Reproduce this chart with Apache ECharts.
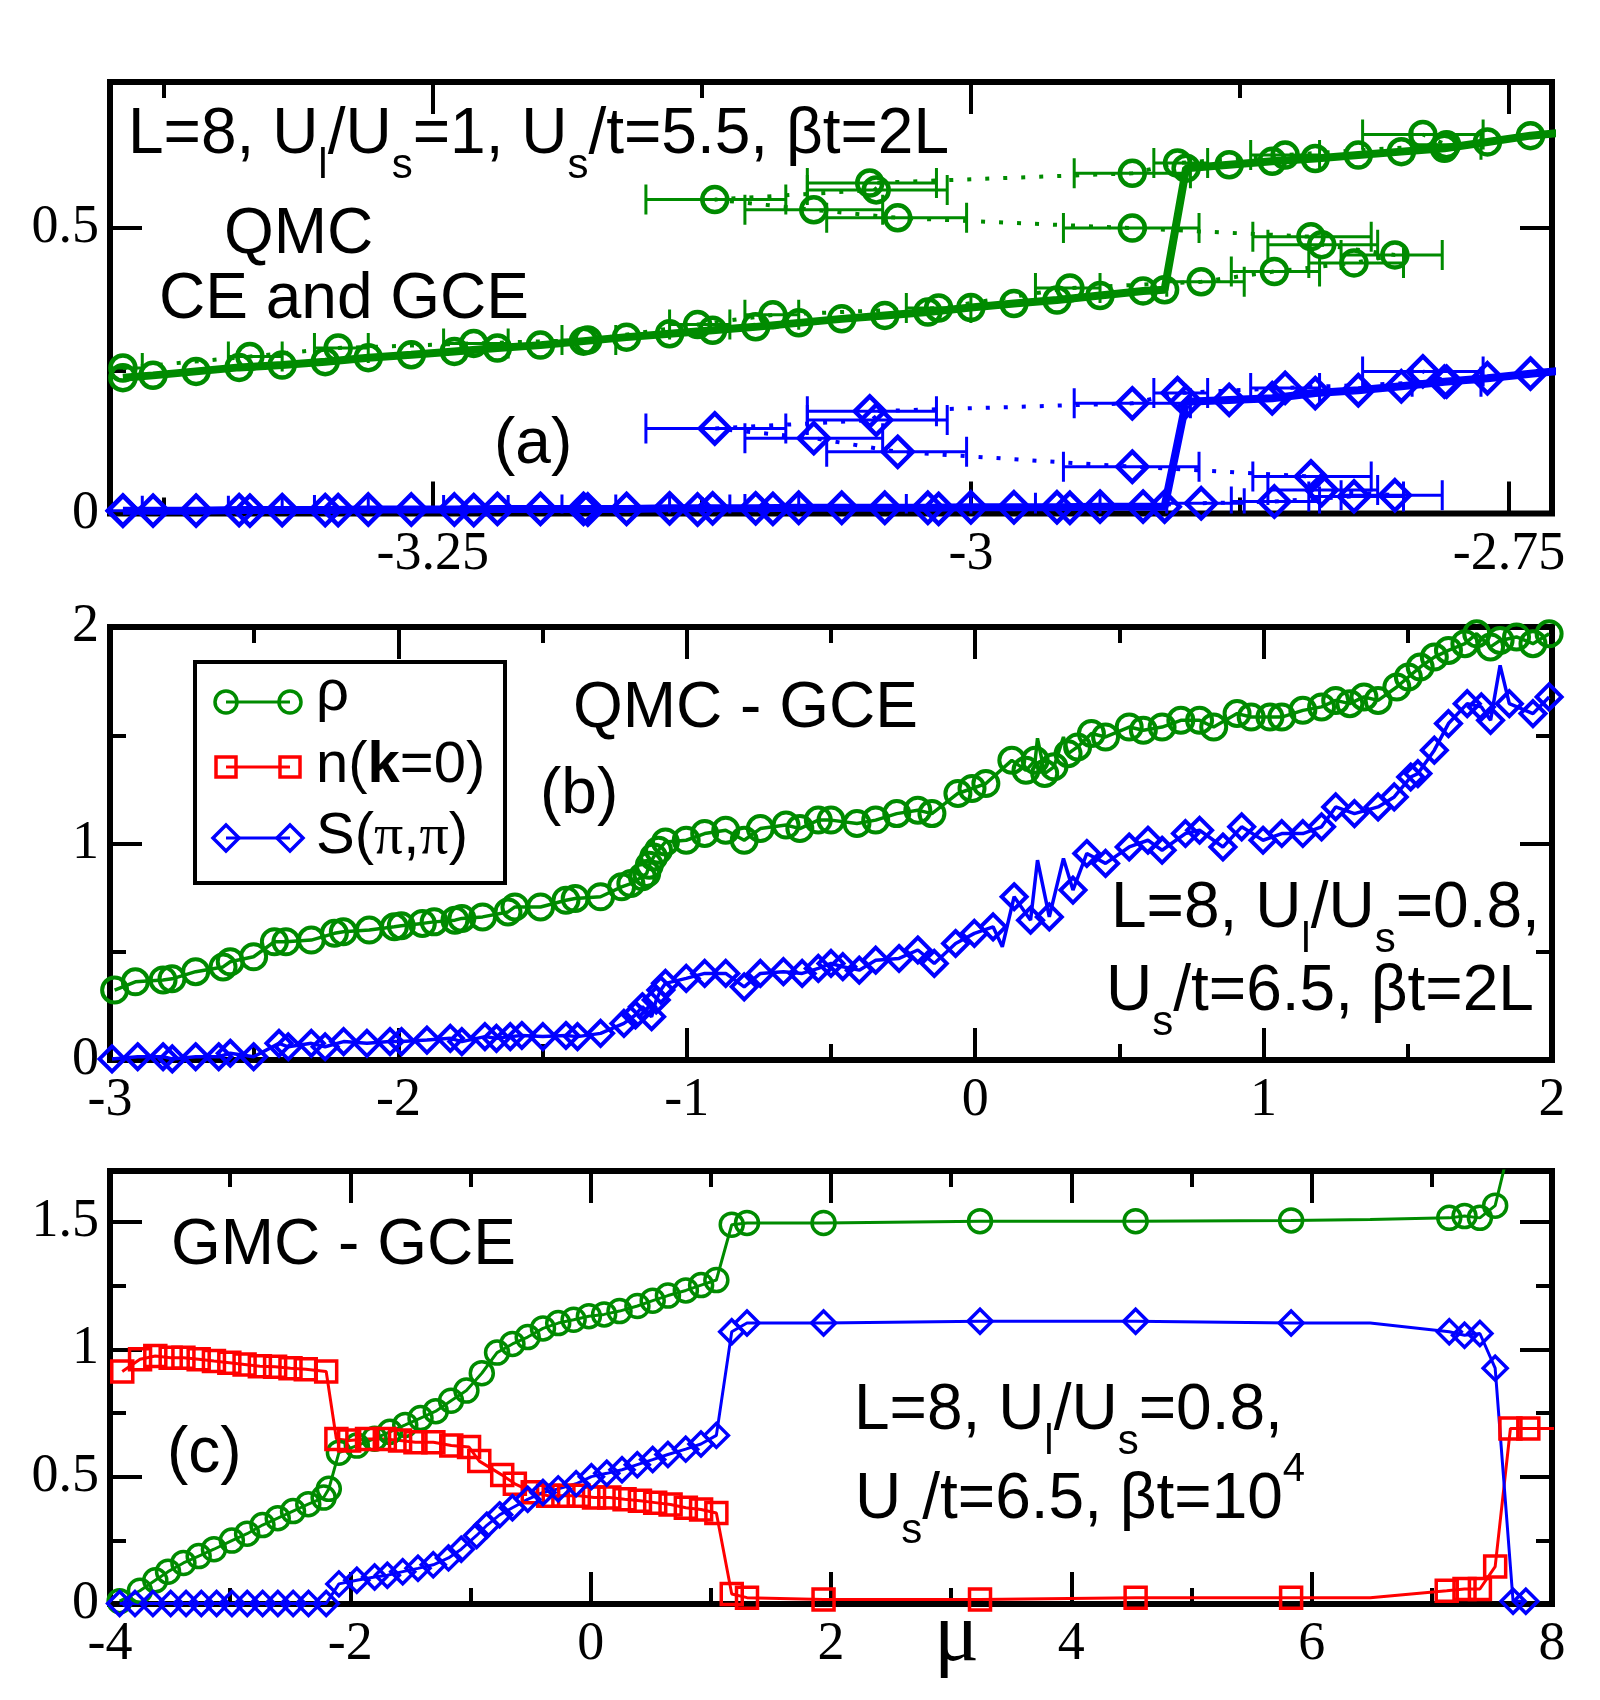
<!DOCTYPE html>
<html>
<head>
<meta charset="utf-8">
<title>QMC / GMC: rho, n(k=0), S(pi,pi) vs mu</title>
<script src="https://cdn.jsdelivr.net/npm/echarts@6.0.0/dist/echarts.min.js"></script>
<style>
  html, body { margin: 0; padding: 0; background: #fff; }
  #chart { width: 1600px; height: 1700px; }
</style>
</head>
<body>
<div id="chart"></div>
<script>
// ---------- data ----------

// panel (a): QMC, CE and GCE, L=8, Ul/Us=1
const aGceMu  = [-3.394,-3.38,-3.36,-3.34,-3.32,-3.30,-3.28,-3.26,-3.24,-3.22,-3.20,-3.18,-3.16,-3.14,-3.12,-3.10,-3.08,-3.06,-3.04,-3.02,-3.00,-2.98,-2.96,-2.94,-2.92,-2.91,-2.90,-2.88,-2.86,-2.84,-2.82,-2.80,-2.78,-2.76,-2.74,-2.72];
const aGceRho = [0.238,0.242,0.249,0.256,0.260,0.266,0.273,0.278,0.284,0.290,0.295,0.302,0.309,0.315,0.321,0.327,0.334,0.341,0.347,0.353,0.361,0.368,0.374,0.382,0.390,0.392,0.605,0.611,0.617,0.622,0.628,0.634,0.640,0.651,0.662,0.669];
const aGceS   = [0.005,0.005,0.005,0.006,0.006,0.006,0.007,0.007,0.007,0.008,0.008,0.008,0.008,0.009,0.009,0.009,0.010,0.010,0.010,0.010,0.011,0.011,0.011,0.012,0.012,0.012,0.196,0.199,0.202,0.211,0.216,0.223,0.231,0.237,0.245,0.252];

// canonical ensemble points, in order of particle number, with x error bars
const aCeMu  = [-3.394,-3.335,-3.294,-3.231,-3.178,-3.127,-3.092,-3.015,-2.954,-2.893,-2.859,-2.822,-2.803,-2.837,-2.842,-2.925,-3.034,-3.073,-3.119,-3.044,-3.047,-2.925,-2.904,-2.854,-2.779,-2.790];
const aCeLo  = [-3.405,-3.345,-3.305,-3.245,-3.190,-3.140,-3.105,-3.030,-2.970,-2.909,-2.879,-2.843,-2.828,-2.862,-2.869,-2.957,-3.067,-3.105,-3.151,-3.076,-3.076,-2.952,-2.915,-2.870,-2.795,-2.818];
const aCeHi  = [-3.385,-3.320,-3.280,-3.215,-3.165,-3.112,-3.080,-3.000,-2.940,-2.873,-2.838,-2.799,-2.781,-2.811,-2.814,-2.894,-3.002,-3.041,-3.086,-3.011,-3.016,-2.898,-2.890,-2.838,-2.763,-2.762];
const aCeRho = [0.255,0.275,0.290,0.298,0.304,0.331,0.348,0.360,0.395,0.406,0.424,0.439,0.453,0.471,0.485,0.500,0.518,0.532,0.550,0.567,0.579,0.596,0.614,0.628,0.646,0.664];
const aCeS   = [0.005,0.005,0.006,0.006,0.007,0.007,0.008,0.008,0.010,0.018,0.021,0.030,0.032,0.041,0.065,0.082,0.108,0.132,0.149,0.164,0.179,0.193,0.211,0.220,0.231,0.249];

// panel (b): QMC - GCE, L=8, Ul/Us=0.8, beta t = 2L   [mu, value]
const bRho = [[-2.984,0.323],[-2.912,0.361],[-2.816,0.370],[-2.785,0.375],[-2.703,0.408],[-2.608,0.430],[-2.583,0.454],[-2.502,0.477],[-2.430,0.546],[-2.390,0.546],
  [-2.302,0.554],[-2.222,0.585],[-2.191,0.592],[-2.101,0.600],[-2.014,0.615],[-1.990,0.620],[-1.917,0.631],[-1.876,0.638],[-1.804,0.646],[-1.780,0.654],
  [-1.708,0.661],[-1.620,0.684],[-1.596,0.707],[-1.507,0.707],[-1.419,0.738],[-1.387,0.746],[-1.299,0.754],[-1.226,0.800],[-1.194,0.815],[-1.154,0.846],
  [-1.139,0.862],[-1.130,0.900],[-1.115,0.938],[-1.098,0.969],[-1.074,1.007],[-1.002,1.015],[-0.938,1.046],[-0.865,1.061],[-0.801,1.015],[-0.745,1.069],
  [-0.656,1.085],[-0.608,1.069],[-0.544,1.108],[-0.500,1.108],[-0.410,1.092],[-0.345,1.108],[-0.272,1.138],[-0.199,1.154],[-0.150,1.138],[-0.060,1.231],
  [-0.011,1.254],[0.037,1.277],[0.127,1.384],[0.176,1.338],[0.208,1.384],[0.216,1.486],[0.241,1.323],[0.273,1.354],[0.306,1.492],[0.322,1.415],
  [0.355,1.446],[0.403,1.508],[0.452,1.492],[0.534,1.538],[0.583,1.523],[0.648,1.538],[0.713,1.569],[0.778,1.569],[0.827,1.538],[0.908,1.600],
  [0.957,1.584],[1.022,1.584],[1.063,1.584],[1.136,1.615],[1.201,1.631],[1.250,1.661],[1.299,1.646],[1.348,1.677],[1.397,1.661],[1.462,1.723],
  [1.502,1.769],[1.543,1.815],[1.592,1.861],[1.641,1.892],[1.698,1.923],[1.739,1.969],[1.787,1.908],[1.820,1.938],[1.877,1.954],[1.934,1.923],[1.990,1.969]];
const bS = [[-2.993,0.005],[-2.904,0.015],[-2.816,0.015],[-2.784,0.005],[-2.703,0.015],[-2.623,0.015],[-2.583,0.031],[-2.502,0.015],[-2.414,0.077],[-2.382,0.061],
  [-2.302,0.077],[-2.254,0.061],[-2.190,0.085],[-2.109,0.077],[-2.029,0.085],[-1.989,0.085],[-1.901,0.092],[-1.820,0.100],[-1.780,0.085],[-1.700,0.108],
  [-1.660,0.100],[-1.612,0.108],[-1.572,0.113],[-1.499,0.108],[-1.419,0.113],[-1.379,0.108],[-1.299,0.123],[-1.218,0.169],[-1.178,0.208],[-1.154,0.246],
  [-1.122,0.200],[-1.106,0.277],[-1.090,0.323],[-1.074,0.354],[-1.002,0.377],[-0.938,0.400],[-0.865,0.400],[-0.801,0.338],[-0.745,0.400],[-0.665,0.408],
  [-0.600,0.400],[-0.544,0.423],[-0.500,0.446],[-0.459,0.431],[-0.402,0.415],[-0.345,0.461],[-0.264,0.469],[-0.199,0.508],[-0.142,0.446],[-0.068,0.538],
  [-0.003,0.585],[0.062,0.615],[0.094,0.523],[0.135,0.754],[0.192,0.646],[0.216,0.923],[0.257,0.661],[0.306,0.931],[0.339,0.785],[0.387,0.954],
  [0.452,0.908],[0.534,0.984],[0.599,1.015],[0.648,0.969],[0.729,1.046],[0.778,1.061],[0.859,0.984],[0.924,1.077],[0.998,1.015],[1.063,1.046],
  [1.136,1.046],[1.201,1.077],[1.250,1.169],[1.315,1.138],[1.397,1.169],[1.453,1.215],[1.510,1.307],[1.535,1.323],[1.592,1.431],[1.641,1.554],
  [1.706,1.646],[1.755,1.631],[1.787,1.569],[1.820,1.823],[1.852,1.646],[1.934,1.600],[1.990,1.677]];
// vertices drawn without a marker (spikes in the connecting line)
const bRhoNoMark = [0.216, 0.306];
const bSNoMark = [0.094, 0.216, 0.306, 1.820];

// panel (c): GMC - GCE, beta t = 10^4   [mu, value]
const cRho = [[-3.920,0.011],[-3.751,0.052],[-3.623,0.093],[-3.517,0.127],[-3.389,0.161],[-3.262,0.188],[-3.135,0.215],[-2.986,0.249],[-2.859,0.276],[-2.731,0.310],
  [-2.604,0.337],[-2.477,0.365],[-2.350,0.392],[-2.222,0.418],[-2.179,0.452],[-2.095,0.594],[-1.946,0.622],[-1.798,0.649],[-1.671,0.676],[-1.543,0.703],
  [-1.416,0.730],[-1.289,0.757],[-1.162,0.798],[-1.034,0.838],[-0.906,0.906],[-0.779,0.987],[-0.651,1.021],[-0.524,1.048],[-0.397,1.082],[-0.270,1.103],
  [-0.142,1.116],[-0.015,1.130],[0.112,1.137],[0.240,1.150],[0.389,1.170],[0.516,1.191],[0.643,1.211],[0.792,1.231],[0.919,1.252],[1.046,1.272],
  [1.174,1.489],[1.301,1.496],[1.938,1.496],[3.240,1.503],[4.535,1.503],[5.829,1.506],[6.487,1.510],[7.145,1.516],[7.272,1.523],[7.400,1.516],
  [7.527,1.564],[7.750,2.000]];
const cN = [[-3.898,0.913],[-3.750,0.961],[-3.623,0.974],[-3.495,0.967],[-3.389,0.967],[-3.262,0.961],[-3.135,0.954],[-3.007,0.947],[-2.880,0.940],[-2.753,0.933],
  [-2.626,0.931],[-2.498,0.926],[-2.371,0.922],[-2.201,0.913],[-2.116,0.648],[-2.010,0.642],[-1.861,0.648],[-1.713,0.648],[-1.586,0.642],[-1.458,0.635],
  [-1.309,0.635],[-1.160,0.622],[-1.012,0.616],[-0.927,0.561],[-0.736,0.506],[-0.631,0.472],[-0.482,0.439],[-0.354,0.425],[-0.227,0.425],[-0.099,0.425],
  [0.028,0.418],[0.155,0.418],[0.282,0.411],[0.410,0.405],[0.537,0.398],[0.665,0.391],[0.792,0.378],[0.919,0.371],[1.046,0.357],[1.174,0.039],
  [1.301,0.025],[1.938,0.018],[3.240,0.018],[4.535,0.025],[5.829,0.025],[6.487,0.025],[7.124,0.052],[7.272,0.059],[7.400,0.059],[7.527,0.147],
  [7.654,0.689],[7.803,0.689],[8.050,0.689]];
const cS = [[-3.920,0.002],[-3.792,0.002],[-3.643,0.002],[-3.495,0.002],[-3.367,0.002],[-3.240,0.002],[-3.113,0.002],[-2.985,0.002],[-2.858,0.002],[-2.730,0.002],
  [-2.603,0.002],[-2.476,0.002],[-2.348,0.002],[-2.201,0.002],[-2.095,0.079],[-1.946,0.093],[-1.798,0.106],[-1.692,0.113],[-1.564,0.127],[-1.437,0.140],
  [-1.310,0.154],[-1.183,0.181],[-1.077,0.215],[-0.949,0.269],[-0.864,0.309],[-0.758,0.350],[-0.651,0.378],[-0.524,0.411],[-0.397,0.438],[-0.270,0.452],
  [-0.121,0.472],[0.006,0.500],[0.134,0.513],[0.261,0.527],[0.388,0.547],[0.516,0.567],[0.643,0.587],[0.791,0.608],[0.918,0.628],[1.046,0.662],
  [1.174,1.069],[1.301,1.103],[1.938,1.103],[3.240,1.110],[4.535,1.110],[5.829,1.103],[6.487,1.103],[7.145,1.069],[7.272,1.055],[7.400,1.062],
  [7.527,0.926],[7.676,0.011],[7.782,0.011]];
const cNoMark = [6.487];

// axis ranges and ticks
const aXRange = [-3.40, -2.73], aYRange = [0, 0.756];
const bXRange = [-3, 2],        bYRange = [0, 2];
const cXRange = [-4, 8],        cYRange = [0, 1.7];
const aXMajor = [-3.25, -3, -2.75], aXMinor = [-3.375, -3.125, -2.875];
const aYMajor = [0, 0.5],           aYMinor = [0.25];
const bXMajor = [-3, -2, -1, 0, 1, 2], bXMinor = [-2.5, -1.5, -0.5, 0.5, 1.5];
const bYMajor = [0, 1, 2],             bYMinor = [0.5, 1.5];
const cXMajor = [-4, -2, 0, 2, 4, 6, 8], cXMinor = [-3, -1, 1, 3, 5, 7];
const cYMajor = [0, 0.5, 1, 1.5],        cYMinor = [0.25, 0.75, 1.25];

// ---------- styling ----------
const GREEN = '#008b00', BLUE = '#0000ff', RED = '#ff0000';
const SANS = '"Liberation Sans", Arial, sans-serif';
const SERIF = '"Liberation Serif", "Times New Roman", serif';
const NONE = 'rgba(0,0,0,0)';

const chart = echarts.init(document.getElementById('chart'), null, { renderer: 'canvas' });

const grids = [
  { left: 110, top: 82,   width: 1442, height: 431.5 },
  { left: 110, top: 627,  width: 1442, height: 433 },
  { left: 110, top: 1171, width: 1442, height: 433 }
].map(g => Object.assign(g, {
  show: true, borderColor: '#000', borderWidth: 6, backgroundColor: NONE,
  containLabel: false, outerBoundsMode: 'none'
}));

// four axes per side pair: labelled major, minor, mirrored major, mirrored minor
function axes(gridIndex, range, major, minor, sides) {
  const one = (pos, ticks, len, labelled) => ({
    type: 'value', gridIndex, position: pos, min: range[0], max: range[1],
    axisLine: { show: false, onZero: false },
    splitLine: { show: false },
    minorTick: { show: false },
    axisPointer: { show: false },
    axisTick: { show: true, inside: true, length: len, customValues: ticks,
      lineStyle: { color: '#000', width: 4 } },
    axisLabel: labelled ? {
      show: true, customValues: ticks, color: '#000',
      fontFamily: SERIF, fontSize: 54,
      margin: (pos === 'bottom') ? 14 : 11
    } : { show: false }
  });
  return [one(sides[0], major, 32, true), one(sides[0], minor, 16, false),
          one(sides[1], major, 32, false), one(sides[1], minor, 16, false)];
}

const xAxis = [].concat(
  axes(0, aXRange, aXMajor, aXMinor, ['bottom', 'top']),
  axes(1, bXRange, bXMajor, bXMinor, ['bottom', 'top']),
  axes(2, cXRange, cXMajor, cXMinor, ['bottom', 'top']));
const yAxis = [].concat(
  axes(0, aYRange, aYMajor, aYMinor, ['left', 'right']),
  axes(1, bYRange, bYMajor, bYMinor, ['left', 'right']),
  axes(2, cYRange, cYMajor, cYMinor, ['left', 'right']));

function line(panel, data, color, symbol, size, o) {
  o = o || {};
  const skip = o.skip || [];
  return {
    type: 'line', xAxisIndex: panel * 4, yAxisIndex: panel * 4, data,
    symbol: v => skip.includes(v[0]) ? 'none' : symbol,
    symbolSize: size, showSymbol: true, showAllSymbol: true,
    itemStyle: { color: NONE, borderColor: color, borderWidth: o.bw || 3 },
    lineStyle: { color, width: o.lw || 3, type: o.dash || 'solid', cap: 'butt' },
    clip: true, silent: true, animation: false, z: o.z || 3,
    emphasis: { disabled: true }
  };
}

function errorBars(mu, val, lo, hi, color) {
  return {
    type: 'custom', xAxisIndex: 0, yAxisIndex: 0, clip: true, silent: true, z: 2,
    itemStyle: { color },
    encode: { x: [0, 2, 3], y: 1 },
    data: mu.map((m, i) => [m, val[i], lo[i], hi[i]]),
    renderItem: (params, api) => {
      const y = api.value(1);
      const p0 = api.coord([api.value(2), y]);
      const p1 = api.coord([api.value(3), y]);
      const cap = 15;
      const st = { stroke: color, lineWidth: 3 };
      return { type: 'group', children: [
        { type: 'line', shape: { x1: p0[0], y1: p0[1], x2: p1[0], y2: p1[1] }, style: st },
        { type: 'line', shape: { x1: p0[0], y1: p0[1] - cap, x2: p0[0], y2: p0[1] + cap }, style: st },
        { type: 'line', shape: { x1: p1[0], y1: p1[1] - cap, x2: p1[0], y2: p1[1] + cap }, style: st }
      ] };
    }
  };
}

const zip = (xs, ys) => xs.map((x, i) => [x, ys[i]]);

const series = [
  // (a)
  errorBars(aCeMu, aCeRho, aCeLo, aCeHi, GREEN),
  errorBars(aCeMu, aCeS, aCeLo, aCeHi, BLUE),
  line(0, zip(aCeMu, aCeRho), GREEN, 'circle', 25, { bw: 4.5, lw: 4, dash: [4, 14] }),
  line(0, zip(aCeMu, aCeS), BLUE, 'diamond', 30, { bw: 4.5, lw: 4, dash: [4, 14] }),
  line(0, zip(aGceMu, aGceRho), GREEN, 'circle', 25, { bw: 4.5, lw: 8, z: 4 }),
  line(0, zip(aGceMu, aGceS), BLUE, 'diamond', 30, { bw: 4.5, lw: 8, z: 4 }),
  // (b)
  line(1, bRho, GREEN, 'circle', 25, { bw: 4, lw: 3.5, skip: bRhoNoMark }),
  line(1, bS, BLUE, 'diamond', 25, { bw: 4, lw: 3.5, skip: bSNoMark }),
  // (c)
  line(2, cRho, GREEN, 'circle', 23, { bw: 3.5, skip: cNoMark }),
  line(2, cN, RED, 'rect', 21, { bw: 3.5, skip: cNoMark }),
  line(2, cS, BLUE, 'diamond', 24, { bw: 3.5, skip: cNoMark })
];

// ---------- text annotations (laid out with canvas metrics) ----------
const mctx = document.createElement('canvas').getContext('2d');
function midToBase(font) {
  mctx.font = font;
  mctx.textBaseline = 'middle';
  return mctx.measureText('H').actualBoundingBoxDescent;
}
// parts: [text, kind] with kind '', 'sub', 'sup', 'b' (bold) or 'serif'
function textRun(x, base, parts, size) {
  const out = [];
  let cx = x;
  parts.forEach(([t, kind]) => {
    let fs = size, dy = 0, weight = 'normal', fam = SANS;
    if (kind === 'sub') { fs = Math.round(size * 0.66); dy = size * 0.39; }
    if (kind === 'sup') { fs = Math.round(size * 0.62); dy = -size * 0.58; }
    if (kind === 'b') weight = 'bold';
    if (kind === 'serif') fam = SERIF;
    const font = weight + ' ' + fs + 'px ' + fam;
    mctx.font = font;
    const w = mctx.measureText(t).width;
    out.push({
      type: 'text', x: cx, y: base + dy - midToBase(font), silent: true, z: 10,
      style: { text: t, font, fill: '#000', align: 'left', verticalAlign: 'middle',
               textAlign: 'left', textVerticalAlign: 'middle' }
    });
    cx += w;
  });
  return out;
}

const T = 64;
let graphic = [].concat(
  // (a)
  textRun(128, 153, [['L=8, U'], ['l', 'sub'], ['/U'], ['s', 'sub'], ['=1, U'], ['s', 'sub'], ['/t=5.5, βt=2L']], T),
  textRun(224, 253, [['QMC']], T),
  textRun(159, 318, [['CE and GCE']], T),
  textRun(494, 463, [['(a)']], T),
  // (b)
  textRun(573, 727, [['QMC - GCE']], T),
  textRun(540, 813, [['(b)']], T),
  textRun(1111, 927, [['L=8, U'], ['l', 'sub'], ['/U'], ['s', 'sub'], ['=0.8,']], T),
  textRun(1106, 1010, [['U'], ['s', 'sub'], ['/t=6.5, βt=2L']], T),
  // (c)
  textRun(171, 1264, [['GMC - GCE']], T),
  textRun(167, 1472, [['(c)']], T),
  textRun(854, 1429, [['L=8, U'], ['l', 'sub'], ['/U'], ['s', 'sub'], ['=0.8,']], T),
  textRun(855, 1518, [['U'], ['s', 'sub'], ['/t=6.5, βt=10'], ['4', 'sup']], T)
);

// mu axis title
const MUFONT = 'normal 84px ' + SERIF;
graphic.push({
  type: 'text', x: 934, y: 1660 - midToBase(MUFONT), silent: true,
  style: { text: 'μ', font: MUFONT, fill: '#000', align: 'left', verticalAlign: 'middle',
           textAlign: 'left', textVerticalAlign: 'middle' }
});

// legend box in panel (b)
const LX1 = 226, LX2 = 290, LY = [702, 767, 838];
graphic = graphic.concat([
  { type: 'rect', shape: { x: 195, y: 662, width: 310, height: 221 }, style: { fill: '#fff', stroke: '#000', lineWidth: 4 }, z: 9 },
  { type: 'line', shape: { x1: LX1, y1: LY[0], x2: LX2, y2: LY[0] }, style: { stroke: GREEN, lineWidth: 3 }, z: 10 },
  { type: 'circle', shape: { cx: LX1, cy: LY[0], r: 11 }, style: { fill: NONE, stroke: GREEN, lineWidth: 3.5 }, z: 10 },
  { type: 'circle', shape: { cx: LX2, cy: LY[0], r: 11 }, style: { fill: NONE, stroke: GREEN, lineWidth: 3.5 }, z: 10 },
  { type: 'line', shape: { x1: LX1, y1: LY[1], x2: LX2, y2: LY[1] }, style: { stroke: RED, lineWidth: 3 }, z: 10 },
  { type: 'rect', shape: { x: LX1 - 10, y: LY[1] - 10, width: 20, height: 20 }, style: { fill: NONE, stroke: RED, lineWidth: 3.5 }, z: 10 },
  { type: 'rect', shape: { x: LX2 - 10, y: LY[1] - 10, width: 20, height: 20 }, style: { fill: NONE, stroke: RED, lineWidth: 3.5 }, z: 10 },
  { type: 'line', shape: { x1: LX1, y1: LY[2], x2: LX2, y2: LY[2] }, style: { stroke: BLUE, lineWidth: 3 }, z: 10 },
  { type: 'polygon', shape: { points: [[LX1, LY[2] - 13], [LX1 + 13, LY[2]], [LX1, LY[2] + 13], [LX1 - 13, LY[2]]] }, style: { fill: NONE, stroke: BLUE, lineWidth: 3.5 }, z: 10 },
  { type: 'polygon', shape: { points: [[LX2, LY[2] - 13], [LX2 + 13, LY[2]], [LX2, LY[2] + 13], [LX2 - 13, LY[2]]] }, style: { fill: NONE, stroke: BLUE, lineWidth: 3.5 }, z: 10 }
]);
graphic = graphic.concat(
  textRun(316, 710, [['ρ']], 58),
  textRun(316, 782, [['n('], ['k', 'b'], ['=0)']], 58),
  textRun(316, 853, [['S('], ['π', 'serif'], [','], ['π', 'serif'], [')']], 58)
);

chart.setOption({
  backgroundColor: '#fff',
  animation: false,
  grid: grids,
  xAxis,
  yAxis,
  series,
  graphic: { elements: graphic }
});
</script>
</body>
</html>
